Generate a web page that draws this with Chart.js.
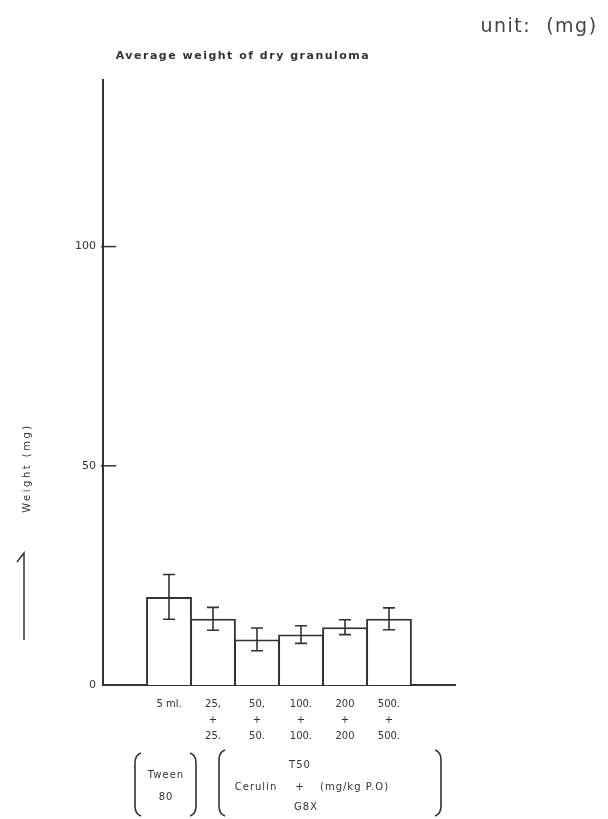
<!DOCTYPE html>
<html>
<head>
<meta charset="utf-8">
<script src="https://cdn.jsdelivr.net/npm/chart.js@4"></script>
<style>
  html, body { margin: 0; padding: 0; background: #fff; }
  #wrap { width: 608px; height: 819px; }
</style>
</head>
<body>
<div id="wrap"><canvas id="granulomaChart"></canvas></div>
<script>
// categories (first and last are empty slots on the axis)
const doseLabels = [
  '',
  ['5 ml.', '', ''],
  ['25,', '+', '25.'],
  ['50,', '+', '50.'],
  ['100.', '+', '100.'],
  ['200', '+', '200'],
  ['500.', '+', '500.'],
  ''
];
const meanWeight = [null, 20.1, 15.1, 10.4, 11.5, 13.2, 15.1, null];
const errWeight  = [null, 5.1, 2.6, 2.6, 2.0, 1.7, 2.5, null];
const yTicks = [0, 50, 100];

const ink = '#333';

// error bars, small inner tick marks and the annotation texts
const extras = {
  id: 'extras',
  afterDatasetsDraw(chart) {
    const c = chart.ctx;
    const x = chart.scales.x, y = chart.scales.y;
    c.save();
    c.strokeStyle = ink;
    c.lineWidth = 1.6;
    meanWeight.forEach((v, i) => {
      if (v === null) return;
      const px = x.getPixelForValue(i);
      const top = y.getPixelForValue(v + errWeight[i]);
      const bot = y.getPixelForValue(v - errWeight[i]);
      c.beginPath();
      c.moveTo(px, top); c.lineTo(px, bot);
      c.moveTo(px - 6, top); c.lineTo(px + 6, top);
      c.moveTo(px - 6, bot); c.lineTo(px + 6, bot);
      c.stroke();
    });
    // tick dashes inside the plot
    c.lineWidth = 1.5;
    [50, 100].forEach(v => {
      const py = y.getPixelForValue(v);
      c.beginPath();
      c.moveTo(x.left - 2, py); c.lineTo(x.left + 13, py);
      c.stroke();
    });
    c.restore();
  },
  afterDraw(chart) {
    const c = chart.ctx;
    c.save();
    c.fillStyle = ink;
    c.strokeStyle = ink;
    c.textBaseline = 'middle';
    c.textAlign = 'center';

    c.letterSpacing = '1.5px';
    c.font = 'bold 11px "DejaVu Sans"';
    c.fillText('Average weight of dry granuloma', 243, 56);

    c.letterSpacing = '1.5px';
    c.font = '19px "DejaVu Sans"';
    c.fillStyle = '#444';
    c.fillText('unit:  (mg)', 539, 27);
    c.fillStyle = ink;

    // y axis title
    c.save();
    c.translate(27, 468);
    c.rotate(-Math.PI / 2);
    c.letterSpacing = '2.5px';
    c.font = '10px "DejaVu Sans"';
    c.fillText('Weight (mg)', 0, 0);
    c.restore();

    // arrow below the title
    c.lineWidth = 1.5;
    c.beginPath();
    c.moveTo(24, 640); c.lineTo(24, 553); c.lineTo(17, 562);
    c.stroke();

    // bottom brackets
    const bracket = (x0, x1, y0, y1) => {
      c.beginPath();
      c.moveTo(x0 + 6, y0); c.quadraticCurveTo(x0, y0 + 2, x0, y0 + 10);
      c.lineTo(x0, y1 - 10); c.quadraticCurveTo(x0, y1 - 2, x0 + 6, y1);
      c.moveTo(x1 - 6, y0); c.quadraticCurveTo(x1, y0 + 2, x1, y0 + 10);
      c.lineTo(x1, y1 - 10); c.quadraticCurveTo(x1, y1 - 2, x1 - 6, y1);
      c.stroke();
    };
    c.lineWidth = 1.6;
    bracket(135, 196, 753, 816);
    bracket(219, 441, 750, 816);

    c.letterSpacing = '1px';
    c.font = '10px "DejaVu Sans"';
    c.fillText('Tween', 166, 775);
    c.fillText('80', 166, 797);
    c.fillText('Cerulin', 256, 787);
    c.fillText('T50', 300, 765);
    c.fillText('+', 300, 787);
    c.fillText('G8X', 306, 807);
    c.textAlign = 'left';
    c.fillText('(mg/kg P.O)', 320, 787);
    c.restore();
  }
};

const ctx = document.getElementById('granulomaChart').getContext('2d');
const granulomaChart = new Chart(ctx, {
  type: 'bar',
  data: {
    labels: doseLabels,
    datasets: [{
      label: 'Average weight of dry granuloma',
      data: meanWeight,
      backgroundColor: '#fff',
      borderColor: ink,
      borderWidth: 2,
      barPercentage: 1.04,
      categoryPercentage: 1
    }]
  },
  options: {
    responsive: true,
    maintainAspectRatio: false,
    animation: false,
    layout: { padding: { left: 0, top: 80, right: 153, bottom: 0 } },
    plugins: {
      legend: { display: false },
      tooltip: { enabled: false }
    },
    scales: {
      x: {
        grid: { display: false },
        border: { display: true, color: ink, width: 2 },
        ticks: {
          color: ink,
          padding: 3,
          maxRotation: 0,
          autoSkip: false,
          font: { family: 'DejaVu Sans', size: 10, lineHeight: 1.6 }
        },
        afterFit(scale) { scale.height = 819 - 685; }
      },
      y: {
        min: 0,
        max: 138,
        grid: { display: false, drawTicks: false },
        border: { display: true, color: ink, width: 2 },
        afterBuildTicks(scale) { scale.ticks = yTicks.map(v => ({ value: v })); },
        ticks: {
          color: ink,
          padding: 7,
          font: { family: 'DejaVu Sans', size: 11 }
        },
        afterFit(scale) { scale.width = 103; }
      }
    }
  },
  plugins: [extras]
});
</script>
</body>
</html>
